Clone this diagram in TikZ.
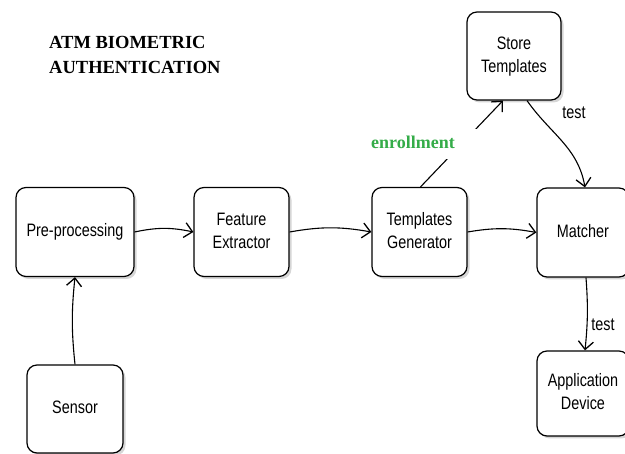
\documentclass[tikz,border=0pt]{standalone}
\usepackage{fontspec}
\usepackage{graphicx}
\setmainfont{Liberation Serif}
\setsansfont{Liberation Sans}
\usetikzlibrary{arrows.meta,shadows,positioning}
\definecolor{enrgreen}{RGB}{52,172,72}
\newcommand\nodetxt[1]{\scalebox{0.8}[1]{\begin{tabular}{@{}c@{}}#1\end{tabular}}}
\tikzset{
  blk/.style={draw=black, line width=1.2pt, rounded corners=10pt, fill=white,
    font=\sffamily\fontsize{18}{23}\selectfont, inner sep=0pt,
    drop shadow={shadow xshift=2.5pt, shadow yshift=-2.5pt, fill=black!35, opacity=0.45}},
  conn/.style={line width=1.1pt, -{Straight Barb[length=8pt,width=15pt,line width=1.3pt]}},
  lbl/.style={font=\sffamily\fontsize{18}{22}\selectfont, inner sep=0pt}
}
\begin{document}
\begin{tikzpicture}[x=1pt,y=1pt]
\clip (0,0) rectangle (625,454);
\fill[white] (0,0) rectangle (625,454);
% title
\node[anchor=base west, font=\bfseries\fontsize{18.5}{25}\selectfont, align=left, inner sep=0pt] (title) at (49,380)
  {ATM BIOMETRIC\\AUTHENTICATION};
% boxes
\node[blk, minimum width=118pt, minimum height=89pt] (pre) at (75,222) {\nodetxt{Pre-processing}};
\node[blk, minimum width=95pt, minimum height=89pt] (fe) at (241.5,222) {\nodetxt{Feature\\Extractor}};
\node[blk, minimum width=95pt, minimum height=89pt] (tg) at (419.5,222) {\nodetxt{Templates\\Generator}};
\node[blk, minimum width=92pt, minimum height=89pt] (mat) at (583,221.5) {\nodetxt{Matcher}};
\node[blk, minimum width=94pt, minimum height=88pt] (st) at (514,398) {\nodetxt{Store\\Templates}};
\node[blk, minimum width=96pt, minimum height=88pt] (sen) at (75,45) {\nodetxt{Sensor}};
\node[blk, minimum width=92pt, minimum height=85pt] (app) at (583,60.5) {\nodetxt{Application\\Device}};
% connectors
\draw[conn] (pre.east) to[bend left=12] (fe.west);
\draw[conn] (fe.east) to[bend left=10] (tg.west);
\draw[conn] (tg.east) to[bend left=10] (mat.west);
\draw[conn] (sen.north) to[bend left=6] (pre.south);
\draw[conn] ([xshift=1pt]tg.north) -- ([xshift=-11pt]st.south);
\draw[conn] ([xshift=13pt]st.south) to[out=-55,in=100] ([xshift=2pt]mat.north);
\draw[conn] ([xshift=3pt]mat.south) to[bend left=5] ([xshift=2pt]app.north);
% gap in the enrollment line
\fill[white] (438,295) rectangle (478,325);
% labels
\node[fill=white, inner xsep=3pt, inner ysep=3pt, font=\bfseries\fontsize{18}{22}\selectfont, text=enrgreen] (enr) at (413,312) {enrollment};
\node[lbl] (t1) at (574,340) {\nodetxt{test}};
\node[lbl] (t2) at (603,128) {\nodetxt{test}};
\end{tikzpicture}
\end{document}
